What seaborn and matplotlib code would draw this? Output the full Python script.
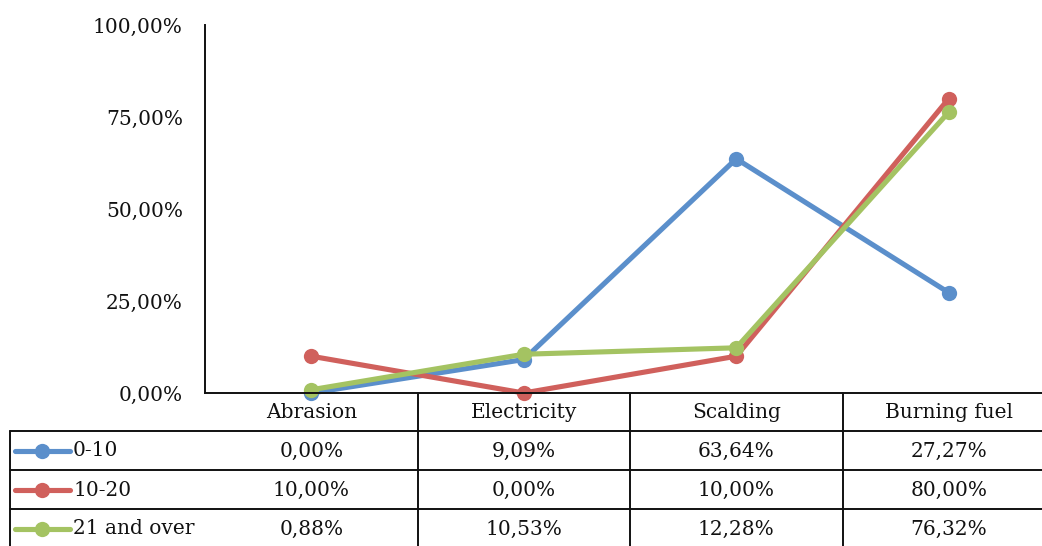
import matplotlib
matplotlib.use("Agg")
import matplotlib.pyplot as plt
import matplotlib.transforms as mtransforms
from matplotlib.ticker import FuncFormatter
import seaborn as sns
import pandas as pd

# Burn causes by age group (share of cases, %)
categories = ["Abrasion", "Electricity", "Scalding", "Burning fuel"]
groups = ["0-10", "10-20", "21 and over"]
age_0_10 = [0.00, 9.09, 63.64, 27.27]
age_10_20 = [10.00, 0.00, 10.00, 80.00]
age_21_over = [0.88, 10.53, 12.28, 76.32]
colors = ["#5B8FCB", "#D0605C", "#A4C362"]

series = [age_0_10, age_10_20, age_21_over]
df = pd.DataFrame(
    [(c, g, v) for g, vals in zip(groups, series) for c, v in zip(categories, vals)],
    columns=["cause", "group", "share"],
)

sns.set_theme(style="white")
plt.rcParams["font.family"] = ["DejaVu Serif"]
FS = 14.5

W, H = 1042, 546
fig = plt.figure(figsize=(W / 100, H / 100), dpi=100)
x0, x1 = 205, 1055
y_top, y_zero = 25, 393
ax = fig.add_axes([x0 / W, (H - y_zero) / H, (x1 - x0) / W, (y_zero - y_top) / H])

sns.lineplot(
    data=df, x="cause", y="share", hue="group", hue_order=groups,
    palette=colors, marker="o", markersize=11, markeredgewidth=0,
    linewidth=3.7, sort=False, legend=False, ax=ax, clip_on=False,
)

ax.set_xlim(-0.5, len(categories) - 0.5)
ax.set_ylim(0, 100)
ax.set_yticks([0, 25, 50, 75, 100])
ax.yaxis.set_major_formatter(FuncFormatter(lambda v, _: f"{v:.2f}%".replace(".", ",")))
ax.tick_params(axis="y", length=0, pad=16, labelsize=FS, labelcolor="#111111")
ax.set_xticks([])
ax.set_xlabel("")
ax.set_ylabel("")
for s in ["top", "right"]:
    ax.spines[s].set_visible(False)
for s in ["left", "bottom"]:
    ax.spines[s].set_color("#111111")
    ax.spines[s].set_linewidth(1.4)

# Data table below the plot: rows in axes units, columns in category units
px = 1.0 / (y_zero - y_top)
def ay(ypix):
    return (y_zero - ypix) * px

blend = mtransforms.blended_transform_factory(ax.transData, ax.transAxes)
line_kw = dict(color="#111111", lw=1.4, clip_on=False)
left_edge = (10 - x0) / (x1 - x0)
row_edges = [431, 470, 509, 548]
for r in row_edges:
    ax.plot([left_edge, 1], [ay(r), ay(r)], transform=ax.transAxes, **line_kw)
ax.plot([left_edge, left_edge], [ay(431), ay(548)], transform=ax.transAxes, **line_kw)
for k in range(len(categories)):
    ax.plot([k + 0.5, k + 0.5], [0, ay(548)], transform=blend, **line_kw)

# Header row with category names
for k, c in enumerate(categories):
    ax.text(k, ay(412), c, transform=blend, ha="center", va="center",
            fontsize=FS, color="#111111")

# Series rows with legend keys and values
row_centers = [451, 490, 529]
for g, vals, col, yc in zip(groups, series, colors, row_centers):
    yy = ay(yc)
    ax.plot([(15 - x0) / (x1 - x0), (70 - x0) / (x1 - x0)], [yy, yy],
            transform=ax.transAxes, color=col, lw=3.7, clip_on=False,
            solid_capstyle="round")
    ax.plot([(42 - x0) / (x1 - x0)], [yy], transform=ax.transAxes, marker="o",
            markersize=11, markeredgewidth=0, color=col, clip_on=False)
    ax.text((73 - x0) / (x1 - x0), yy, g, transform=ax.transAxes,
            ha="left", va="center", fontsize=FS, color="#111111")
    for k, v in enumerate(vals):
        ax.text(k, yy, f"{v:.2f}%".replace(".", ","), transform=blend,
                ha="center", va="center", fontsize=FS, color="#111111")

fig.savefig("out.png", dpi=100)
